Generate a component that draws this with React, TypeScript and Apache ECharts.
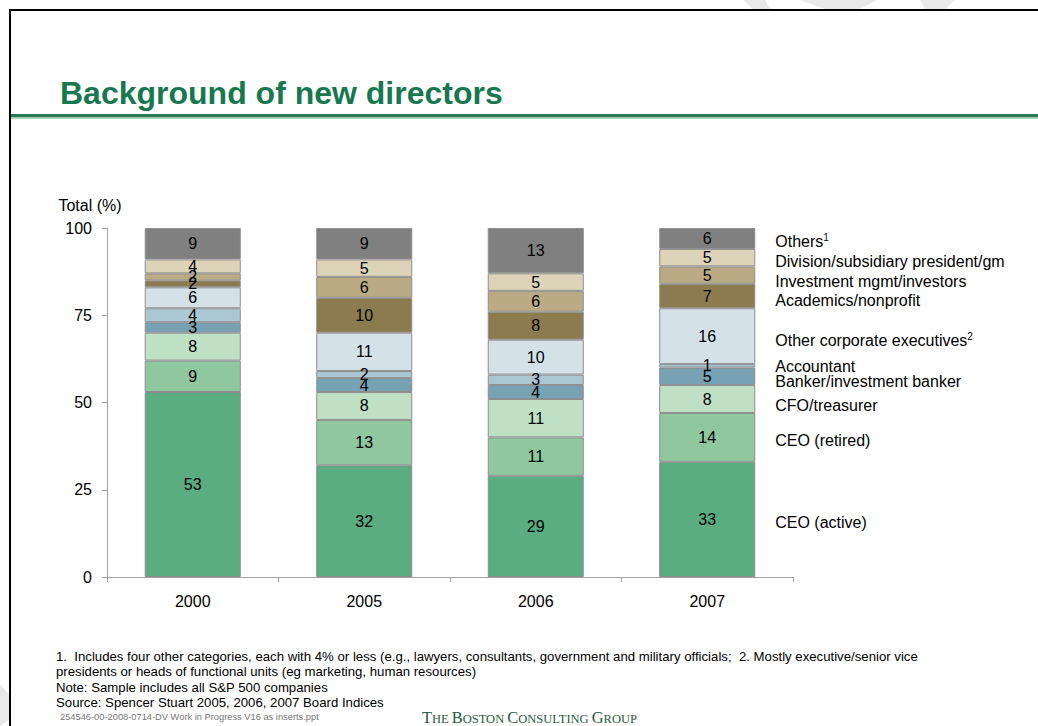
import React, { useEffect, useRef } from "react";
import * as echarts from "echarts";

const years = ["2000", "2005", "2006", "2007"];
const yTicks = [0, 25, 50, 75, 100];

const ceoActive = [53, 32, 29, 33];
const ceoRetired = [9, 13, 11, 14];
const cfoTreasurer = [8, 8, 11, 8];
const banker = [3, 4, 4, 5];
const accountant = [4, 2, 3, 1];
const otherCorporate = [6, 11, 10, 16];
const academics = [2, 10, 8, 7];
const investment = [2, 6, 6, 5];
const division = [4, 5, 5, 5];
const others = [9, 9, 13, 6];

const seriesNames = [
  "CEO (active)",
  "CEO (retired)",
  "CFO/treasurer",
  "Banker/investment banker",
  "Accountant",
  "Other corporate executives",
  "Academics/nonprofit",
  "Investment mgmt/investors",
  "Division/subsidiary president/gm",
  "Others",
];
const seriesLabels = [
  "CEO (active)",
  "CEO (retired)",
  "CFO/treasurer",
  "Banker/investment banker",
  "Accountant",
  "Other corporate executives{sup|2}",
  "Academics/nonprofit",
  "Investment mgmt/investors",
  "Division/subsidiary president/gm",
  "Others{sup|1}",
];
const seriesData = [
  ceoActive,
  ceoRetired,
  cfoTreasurer,
  banker,
  accountant,
  otherCorporate,
  academics,
  investment,
  division,
  others,
];
const seriesColors = [
  "#59ad80",
  "#8fc79f",
  "#bfe0c5",
  "#77a2b3",
  "#abc7d1",
  "#d4e1e7",
  "#8c7b4f",
  "#bbab85",
  "#ddd3b8",
  "#808080",
];
// vertical nudges (px) of the right-hand category labels
const labelNudge = [3, 3, 6, 5, 1, 4, 4, 6, 4, 3];

const footnotes = [
  "1.  Includes four other categories, each with 4% or less (e.g., lawyers, consultants, government and military officials;  2. Mostly executive/senior vice",
  "presidents or heads of functional units (eg marketing, human resources)",
  "Note: Sample includes all S&P 500 companies",
  "Source: Spencer Stuart 2005, 2006, 2007 Board Indices",
];
const footnoteY = [656, 671, 687, 702];

const FONT = "'Liberation Sans', Arial, Helvetica, sans-serif";
const SERIF = "'Liberation Serif', 'Times New Roman', serif";

export default function App() {
  const ref = useRef<HTMLDivElement>(null);

  useEffect(() => {
    if (!ref.current) return;
    const chart = echarts.init(ref.current, undefined, { renderer: "svg" });
    const last = years.length - 1;
    let cum = 0;
    const series = seriesData.map((data, i) => {
      const v = data[last];
      const center = cum + v / 2;
      cum += v;
      return {
        name: seriesNames[i],
        type: "bar",
        stack: "total",
        barWidth: "56%",
        data,
        itemStyle: { color: seriesColors[i], borderColor: "#8e8e8e", borderWidth: 1 },
        label: {
          show: true,
          position: "inside",
          color: "#000",
          fontFamily: FONT,
          fontSize: 16,
        },
        markPoint: {
          symbol: "circle",
          symbolSize: 0,
          silent: true,
          data: [{ coord: [years[last], center], value: 0 }],
          label: {
            show: true,
            position: "right",
            distance: 68,
            offset: [0, labelNudge[i]],
            formatter: seriesLabels[i],
            color: "#000",
            fontFamily: FONT,
            fontSize: 16,
            align: "left",
            rich: {
              sup: { fontSize: 10, fontFamily: FONT, color: "#000", padding: [0, 0, 8, 0] },
            },
          },
        },
      };
    });

    const wm = "#e9e9e9";
    chart.setOption({
      animation: false,
      backgroundColor: "#fff",
      grid: { left: 107, right: 245, top: 228, bottom: 149, containLabel: false },
      xAxis: {
        type: "category",
        data: years,
        axisLine: { lineStyle: { color: "#a0a0a0", width: 1 } },
        axisTick: { show: true, length: 5, lineStyle: { color: "#a0a0a0" } },
        axisLabel: { color: "#000", fontFamily: FONT, fontSize: 16, margin: 16 },
      },
      yAxis: {
        type: "value",
        min: 0,
        max: 100,
        interval: 25,
        name: "Total (%)",
        nameLocation: "end",
        nameGap: 15,
        nameTextStyle: { color: "#000", fontFamily: FONT, fontSize: 16, align: "center", padding: [0, 34, 0, 0] },
        axisLine: { show: true, lineStyle: { color: "#a0a0a0", width: 1 } },
        axisTick: { show: true, length: 5, lineStyle: { color: "#a0a0a0" } },
        splitLine: { show: false },
        axisLabel: {
          color: "#000",
          fontFamily: FONT,
          fontSize: 16,
          margin: 15,
          formatter: (v: number) => (yTicks.includes(v) ? String(v) : ""),
        },
      },
      series,
      graphic: [
        { type: "polygon", shape: { points: [[743, 0], [765, 0], [770, 9], [752, 9]] }, style: { fill: wm } },
        { type: "polygon", shape: { points: [[800, 0], [877, 0], [860, 9], [825, 9]] }, style: { fill: wm } },
        { type: "polygon", shape: { points: [[920, 0], [955, 0], [945, 9], [925, 9]] }, style: { fill: wm } },
        { type: "polygon", shape: { points: [[0, 684], [9, 695], [9, 720], [0, 726]] }, style: { fill: wm } },
        { type: "rect", shape: { x: 9, y: 9, width: 2, height: 717 }, style: { fill: "#000" } },
        { type: "rect", shape: { x: 9, y: 9, width: 1029, height: 2 }, style: { fill: "#000" } },
        {
          type: "text",
          x: 60,
          y: 93,
          style: {
            text: "Background of new directors",
            fill: "#17784f",
            font: `bold 32px ${FONT}`,
            verticalAlign: "middle",
          },
        },
        { type: "rect", shape: { x: 11, y: 114, width: 1027, height: 3 }, style: { fill: "#2a7b58" } },
        { type: "rect", shape: { x: 11, y: 117, width: 1027, height: 2 }, style: { fill: "#a3d1b1" } },
        ...footnotes.map((t, i) => ({
          type: "text",
          x: 56,
          y: footnoteY[i],
          style: { text: t, fill: "#000", font: `13.2px ${FONT}`, verticalAlign: "middle" },
        })),
        {
          type: "text",
          x: 60,
          y: 717,
          style: {
            text: "254546-00-2008-0714-DV Work in Progress V16 as inserts.ppt",
            fill: "#777",
            font: `9.3px ${FONT}`,
            verticalAlign: "middle",
          },
        },
        {
          type: "text",
          x: 422,
          y: 717,
          style: {
            text: "{b|T}{s|HE }{b|B}{s|OSTON }{b|C}{s|ONSULTING }{b|G}{s|ROUP}",
            verticalAlign: "middle",
            rich: {
              b: { fontFamily: SERIF, fontSize: 16.4, fill: "#1f5c40", color: "#1f5c40", verticalAlign: "bottom" },
              s: { fontFamily: SERIF, fontSize: 12.5, fill: "#1f5c40", color: "#1f5c40", verticalAlign: "bottom" },
            },
          },
        },
      ],
    });
    return () => chart.dispose();
  }, []);

  return (
    <div
      ref={ref}
      style={{ position: "absolute", left: 0, top: 0, width: 1038, height: 726, background: "#fff" }}
    />
  );
}
